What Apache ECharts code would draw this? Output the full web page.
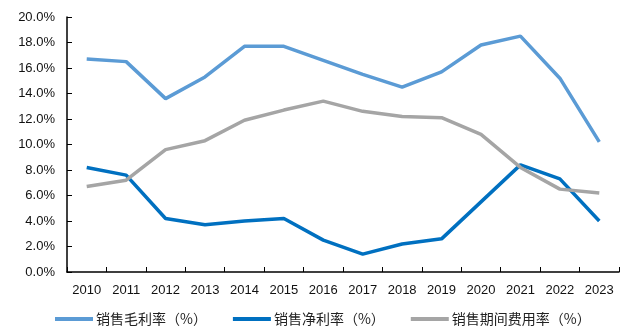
<!DOCTYPE html>
<html>
<head>
<meta charset="utf-8">
<script src="https://cdn.jsdelivr.net/npm/echarts@6/dist/echarts.min.js"></script>
<style>
  html, body { margin: 0; padding: 0; background: #fff; }
  #chart { width: 626px; height: 332px; }
</style>
</head>
<body>
<div id="chart"></div>
<script>
// Years on the category axis
const years = ['2010', '2011', '2012', '2013', '2014', '2015', '2016',
               '2017', '2018', '2019', '2020', '2021', '2022', '2023'];

// Ratios in percent
const grossMargin = [16.7, 16.5, 13.6, 15.3, 17.7, 17.7, 16.6, 15.5, 14.5, 15.7, 17.8, 18.5, 15.2, 10.2];
const netMargin   = [8.2, 7.6, 4.2, 3.7, 4.0, 4.2, 2.5, 1.4, 2.2, 2.6, 5.5, 8.4, 7.3, 4.0];
const expenseRate = [6.7, 7.2, 9.6, 10.3, 11.9, 12.7, 13.4, 12.6, 12.2, 12.1, 10.8, 8.2, 6.5, 6.2];

const seriesNames = ['销售毛利率（%）', '销售净利率（%）', '销售期间费用率（%）'];
const seriesColors = ['#5B9BD5', '#0070C0', '#A5A5A5'];

const chart = echarts.init(document.getElementById('chart'));

const makeLine = (name, data, color) => ({
  name: name,
  type: 'line',
  data: data,
  symbol: 'none',
  smooth: false,
  lineStyle: { color: color, width: 3.5 },
  itemStyle: { color: color }
});

chart.setOption({
  animation: false,
  backgroundColor: '#fff',
  textStyle: { fontFamily: 'Liberation Sans, Arial, sans-serif' },
  grid: { left: 67, right: 7, top: 17, bottom: 60, containLabel: false },
  legend: {
    bottom: 1,
    left: 50,
    icon: 'rect',
    itemWidth: 38,
    itemHeight: 4,
    itemGap: 26,
    textStyle: {
      fontFamily: 'Noto Sans CJK SC',
      fontSize: 14,
      color: '#222',
      padding: [0, 0, 0, -2]
    },
    data: seriesNames
  },
  xAxis: {
    type: 'category',
    data: years,
    boundaryGap: true,
    axisLine: { lineStyle: { color: '#000', width: 1.5 } },
    axisTick: { show: true, inside: true, length: 5, lineStyle: { color: '#000' } },
    axisLabel: { color: '#111', fontSize: 13, margin: 12, interval: 0 },
    splitLine: { show: false }
  },
  yAxis: {
    type: 'value',
    min: 0,
    max: 20,
    interval: 2,
    axisLine: { show: true, lineStyle: { color: '#000', width: 1.5 } },
    axisTick: { show: true, inside: true, length: 5, lineStyle: { color: '#000' } },
    axisLabel: {
      color: '#111',
      fontSize: 13,
      margin: 12,
      formatter: v => v.toFixed(1) + '%'
    },
    splitLine: { show: false }
  },
  series: [
    makeLine(seriesNames[0], grossMargin, seriesColors[0]),
    makeLine(seriesNames[1], netMargin, seriesColors[1]),
    makeLine(seriesNames[2], expenseRate, seriesColors[2])
  ]
});
</script>
</body>
</html>
